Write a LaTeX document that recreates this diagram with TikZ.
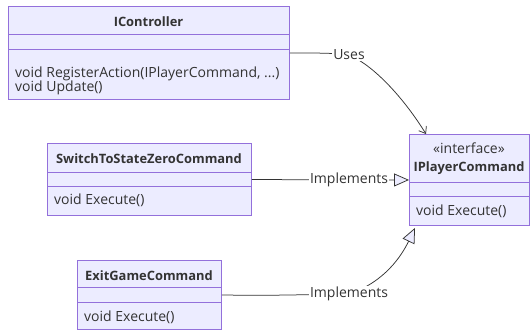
\documentclass[tikz,border=0pt]{standalone}
\usepackage{fontspec}
\setmainfont{Open Sans}
\usetikzlibrary{arrows.meta,calc}
\definecolor{classfill}{HTML}{ECECFF}
\definecolor{classline}{HTML}{9370DB}
\definecolor{ink}{HTML}{333333}
\tikzset{
  classbox/.style={draw=classline, fill=classfill, line width=0.9pt, anchor=north west, inner sep=0pt},
  divider/.style={draw=classline, line width=0.9pt},
  txt/.style={font=\fontsize{14}{16}\selectfont, text=ink, inner sep=0pt},
  title/.style={txt, font=\fontsize{12.9}{15}\selectfont\bfseries},
  member/.style={txt, anchor=west},
  edgelabel/.style={txt, fill=white, inner sep=1pt},
  link/.style={draw=ink, line width=0.75pt},
  realise/.style={link, -{Triangle[open, length=15pt, width=13pt, fill=classfill]}},
}
\begin{document}
\begin{tikzpicture}[x=1pt,y=-1pt]
\useasboundingbox (0,0) rectangle (530,330);

% IController
\node[classbox, minimum width=281pt, minimum height=93pt] (ictrl) at (8,6) {};
\draw[divider] (8,34) -- (289,34);
\draw[divider] (8,49) -- (289,49);
\node[title] (ictrlname) at (148.5,22) {IController};
\node[member] (ictrlm1) at (15,74) {void RegisterAction(IPlayerCommand, ...)};
\node[member] (ictrlm2) at (15,88) {void Update()};

% IPlayerCommand
\node[classbox, minimum width=120pt, minimum height=91pt] (ipc) at (409,134) {};
\draw[divider] (409,182) -- (529,182);
\draw[divider] (409,196) -- (529,196);
\node[txt] (ipcstereo) at (469,148) {«interface»};
\node[title] (ipcname) at (469,168) {IPlayerCommand};
\node[member] (ipcm1) at (416,211) {void Execute()};

% SwitchToStateZeroCommand
\node[classbox, minimum width=204pt, minimum height=72pt] (sw) at (47,143) {};
\draw[divider] (47,172) -- (251,172);
\draw[divider] (47,186) -- (251,186);
\node[title] (swname) at (149,159) {SwitchToStateZeroCommand};
\node[member] (swm1) at (54,200) {void Execute()};

% ExitGameCommand
\node[classbox, minimum width=144pt, minimum height=69pt] (ex) at (77,260) {};
\draw[divider] (77,287) -- (221,287);
\draw[divider] (77,302) -- (221,302);
\node[title] (exname) at (149,276) {ExitGameCommand};
\node[member] (exm1) at (84,317) {void Execute()};

% edge label anchors
\coordinate (usespt) at (349,55);
\coordinate (impl1pt) at (349,180);
\coordinate (impl2pt) at (349,294);

% IController uses IPlayerCommand
\path[link, -{Straight Barb[length=6pt,width=9pt]}]
  (ictrl.east) .. controls (320,53) and (335,53) .. (usespt)
  .. controls (375,66) and (405,100) .. ($(ipc.north west)+(17,0)$);
\node[edgelabel] (uses) at (usespt) {Uses};

% realisations
\path[realise]
  (sw.east) -- (impl1pt) -- (ipc.west);
\node[edgelabel] (impl1) at (impl1pt) {Implements};

\path[realise]
  (ex.east) .. controls (280,296) and (320,294) .. (impl2pt)
  .. controls (385,282) and (402,255) .. ($(ipc.south west)+(6,2)$);
\node[edgelabel] (impl2) at (impl2pt) {Implements};
\end{tikzpicture}
\end{document}
